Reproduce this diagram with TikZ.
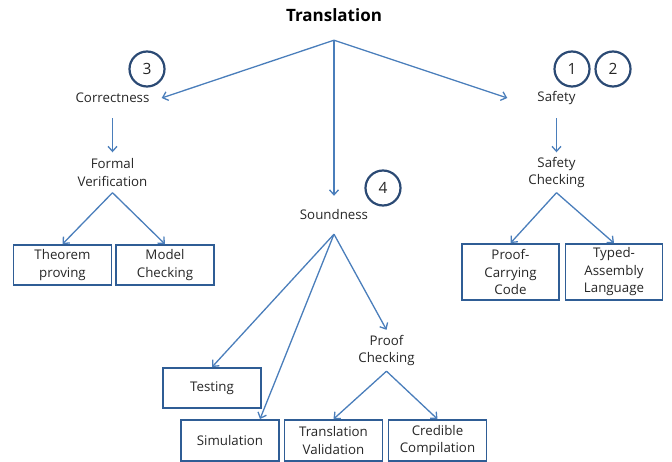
\documentclass[tikz,border=0pt]{standalone}
\usepackage{fontspec}
\setmainfont{Open Sans}
\usetikzlibrary{arrows.meta}
\definecolor{arrowblue}{HTML}{4A7EBB}
\definecolor{boxblue}{HTML}{2F5D95}
\definecolor{ringblue}{HTML}{2B4A74}
\definecolor{ink}{HTML}{262626}
\begin{document}
\begin{tikzpicture}[x=1pt,y=-1pt,
  font=\fontsize{13.3}{17.5}\selectfont, text=ink,
  lbl/.style={align=center, minimum width=98pt, inner sep=0pt},
  leaf/.style={draw=boxblue, line width=1.8pt, align=center,
    minimum width=98pt, minimum height=40pt, inner sep=0pt},
  badge/.style={circle, draw=ringblue, line width=2.2pt, minimum size=35pt,
    inner sep=0pt, font=\fontsize{15.5}{15.5}\selectfont},
  link/.style={draw=arrowblue, line width=1.3pt,
    -{Straight Barb[length=5pt,width=9pt]}}]
  \useasboundingbox (0,0) rectangle (672,462);

  % root
  \node[lbl, minimum height=50pt, font=\fontsize{17}{19}\selectfont\bfseries, text=black]
    (tr) at (334,15) {Translation};

  % second level
  \node[lbl, minimum height=40pt] (cor) at (112.5,98) {Correctness};
  \node[lbl, minimum height=40pt] (saf) at (556.5,98) {Safety};
  \node[lbl, minimum height=38pt] (snd) at (334,215) {Soundness};

  % third level labels
  \node[lbl, minimum height=40pt] (fv) at (112.5,172.5) {Formal\\Verification};
  \node[lbl, minimum height=40pt] (sc) at (556.5,172.5) {Safety\\Checking};
  \node[lbl, minimum height=41pt] (pc) at (386.5,350.5) {Proof\\Checking};

  % leaves
  \node[leaf] (thm) at (62.5,265) {Theorem\\proving};
  \node[leaf] (mc)  at (165,265) {Model\\Checking};
  \node[leaf, minimum width=97pt, minimum height=56pt] (pcc) at (510.5,272) {Proof-\\Carrying\\Code};
  \node[leaf, minimum width=97pt, minimum height=56pt] (tal) at (614,272) {Typed-\\Assembly\\Language};
  \node[leaf] (tst) at (212,388) {Testing};
  \node[leaf, minimum height=41pt] (sim) at (230,440.5) {Simulation};
  \node[leaf, minimum height=41pt] (tv)  at (333.5,440.5) {Translation\\Validation};
  \node[leaf, minimum height=41pt] (cc)  at (437.5,440.5) {Credible\\Compilation};

  % numbered badges
  \node[badge] (b3) at (147,69) {3};
  \node[badge] (b1) at (572,69) {1};
  \node[badge] (b2) at (613,69) {2};
  \node[badge] (b4) at (383,188) {4};

  % connectors
  \draw[link] (tr.south) -- (cor.east);
  \draw[link] (tr.south) -- (snd.north);
  \draw[link] (tr.south) -- (saf.west);
  \draw[link] (cor) -- (fv);
  \draw[link] (saf) -- (sc);
  \draw[link] (fv.south) -- (thm.north);
  \draw[link] (fv.south) -- (mc.north);
  \draw[link] (sc.south) -- (pcc.north);
  \draw[link] (sc.south) -- (tal.north);
  \draw[link] (snd.south) -- (tst.north);
  \draw[link] (snd.south) -- ([xshift=30pt]sim.north);
  \draw[link] (snd.south) -- (pc.north);
  \draw[link] (pc.south) -- (tv.north);
  \draw[link] (pc.south) -- (cc.north);
\end{tikzpicture}
\end{document}
